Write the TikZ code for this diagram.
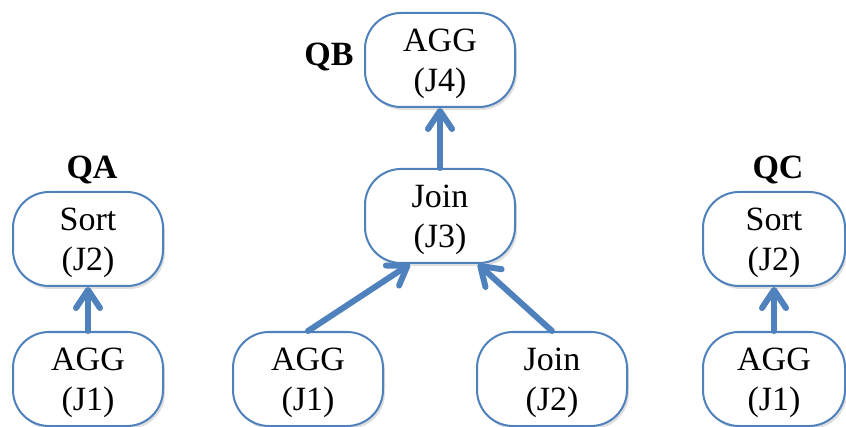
\documentclass[tikz,border=0pt]{standalone}
\usepackage{fontspec}
\setmainfont{Liberation Serif}
\usetikzlibrary{arrows.meta,positioning,shadows}
\definecolor{planblue}{RGB}{79,129,189}
\tikzset{
  op/.style={draw=planblue,line width=1pt,fill=white,rounded corners=18pt,
    minimum width=75pt,minimum height=47pt,inner sep=0pt,align=center,
    font=\fontsize{17}{20}\selectfont,text depth=-1.5pt,
    drop shadow={opacity=.25,shadow xshift=1pt,shadow yshift=-1.5pt}},
  qlabel/.style={inner sep=0pt,font=\fontsize{17}{20}\selectfont\bfseries},
  feed/.style={-{Straight Barb[length=9pt,width=12pt,line cap=round,line join=round]},
    draw=planblue,line width=3pt,line cap=round},
}

\begin{document}
\begin{tikzpicture}[x=0.5pt,y=-0.5pt]
  \useasboundingbox (0,0) rectangle (846,427);
  % query A
  \node[op] (sa) at (88,239) {Sort\\(J2)};
  \node[op] (aa) at (88,379) {AGG\\(J1)};
  \node[qlabel,above=3.5pt of sa,xshift=2pt] (qa) {QA};
  \draw[feed] (aa) -- (sa);
  % query B
  \node[op] (b4) at (440,60) {AGG\\(J4)};
  \node[op] (b3) at (440,216) {Join\\(J3)};
  \node[op] (b1) at (308,379) {AGG\\(J1)};
  \node[op] (b2) at (552,379) {Join\\(J2)};
  \node[qlabel,left=5pt of b4,yshift=1.5pt] (qb) {QB};
  \draw[feed] (b3) -- (b4);
  \draw[feed] (b1.north) -- ([xshift=-15pt]b3.south);
  \draw[feed] (b2.north) -- ([xshift=19pt]b3.south);
  % query C
  \node[op,minimum width=71pt] (sc) at (774,239) {Sort\\(J2)};
  \node[op,minimum width=71pt] (ac) at (774,379) {AGG\\(J1)};
  \node[qlabel,above=3.5pt of sc,xshift=2pt] (qc) {QC};
  \draw[feed] (ac) -- (sc);
\end{tikzpicture}
\end{document}
